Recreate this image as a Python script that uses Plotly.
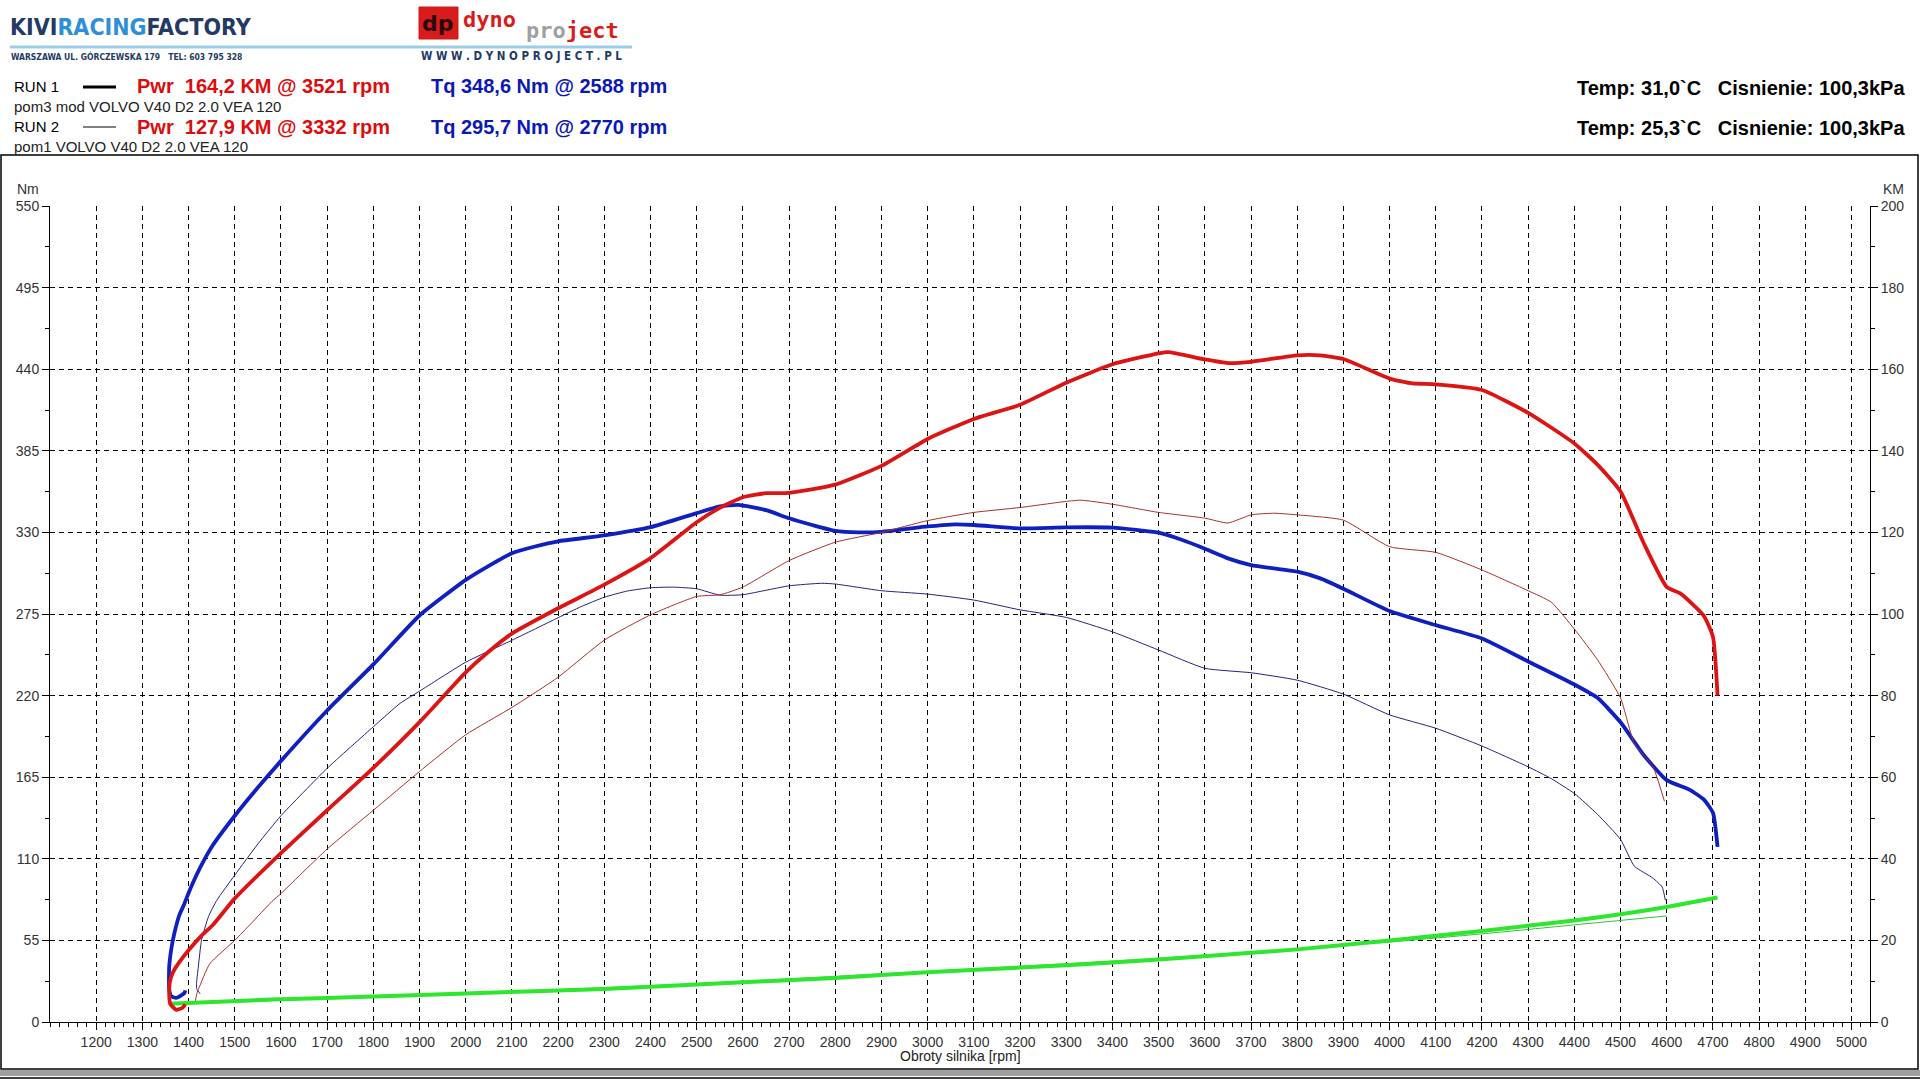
import plotly.graph_objects as go

# ---- data ----
# RUN 1 (thick lines)
run1_tq_rpm = [1393, 1391, 1373, 1362, 1358, 1358, 1363, 1369, 1380, 1390, 1400, 1425, 1450, 1500, 1550,
               1600, 1700, 1800, 1900, 2000, 2050, 2100, 2150, 2200, 2300, 2400, 2500, 2550, 2590, 2650,
               2700, 2750, 2800, 2850, 2900, 3000, 3050, 3100, 3200, 3300, 3400, 3500, 3550, 3600, 3650,
               3700, 3800, 3850, 3900, 4000, 4100, 4200, 4300, 4400, 4450, 4500, 4550, 4600, 4650, 4680,
               4700, 4710]
run1_tq = [21.3, 19.5, 16.2, 17.5, 22, 37, 50, 59.5, 72, 79, 87, 104, 118, 139, 158,
           176, 210, 241, 274, 298, 307.5, 316, 320.5, 324, 328, 333.5, 343, 347.5, 348.6, 345,
           339.5, 335, 331, 330, 330.4, 334, 335.3, 335, 332.7, 333.4, 333.2, 329.8, 325, 319, 312.5,
           308, 303.5, 299, 292, 277, 267.5, 258.5, 243, 227.5, 218.5, 202, 180, 163, 156.5, 150,
           141, 118]

run1_pwr_rpm = [1393, 1387, 1373, 1360, 1358, 1362, 1370, 1380, 1400, 1425, 1455, 1500, 1600, 1700, 1800,
                1900, 2000, 2050, 2100, 2200, 2300, 2400, 2500, 2550, 2600, 2650, 2700, 2800, 2900, 3000,
                3100, 3200, 3300, 3400, 3500, 3521, 3600, 3650, 3700, 3800, 3850, 3900, 4000, 4050, 4100,
                4200, 4300, 4400, 4450, 4500, 4550, 4600, 4630, 4680, 4700, 4710]
run1_pwr = [4.3, 3.5, 3.0, 4.5, 8.2, 11, 13, 14.7, 17.6, 20.8, 24.1, 30.3, 41.4, 51.9, 62.3,
            73.5, 85.7, 90.8, 95.2, 101.4, 107.2, 113.7, 122.5, 126, 128.6, 129.6, 129.7, 131.7, 136.3, 142.9,
            147.8, 151.3, 156.7, 161.2, 163.9, 164.2, 162.4, 161.5, 161.8, 163.4, 163.4, 162.5, 157.7, 156.5, 156.3,
            154.9, 149.3, 141.8, 136.6, 130, 117.4, 106.6, 105, 99.6, 94.4, 80]

run1_loss_rpm = [1358, 1580, 1700, 2000, 2300, 2500, 2800, 3000, 3300, 3500, 3800, 4000, 4200, 4400, 4500, 4600, 4710]
run1_loss = [4.5, 5.5, 5.9, 7.0, 8.1, 9.2, 10.8, 12.2, 13.9, 15.3, 17.8, 20.0, 22.3, 24.9, 26.4, 28.2, 30.5]

# RUN 2 (thin lines)
run2_tq_rpm = [1425, 1418, 1417, 1421, 1428, 1443, 1461, 1500, 1550, 1600, 1700, 1800, 1858, 1900, 2000,
               2100, 2200, 2250, 2300, 2350, 2400, 2450, 2500, 2550, 2600, 2650, 2700, 2770, 2800, 2900,
               3000, 3100, 3200, 3300, 3400, 3500, 3600, 3700, 3800, 3900, 4000, 4100, 4200, 4300, 4350,
               4400, 4450, 4500, 4530, 4570, 4590, 4597]
run2_tq = [19, 22, 25, 37, 55, 71, 82, 99, 120, 139, 171, 199, 214.8, 223, 242.5,
           257.3, 272.5, 280, 286.3, 290.5, 292.7, 293.1, 292, 287.7, 288, 291, 294, 295.7, 295.2, 290.7,
           288.4, 284.4, 277.8, 272.7, 263, 250.7, 238.4, 235.4, 230.4, 221, 207, 198, 186, 172, 164,
           154, 140, 123, 105, 97, 91, 82]

run2_pwr_rpm = [1418, 1415, 1418, 1422, 1446, 1500, 1535, 1580, 1600, 1700, 1800, 1900, 2000, 2100, 2200,
                2300, 2400, 2500, 2550, 2600, 2700, 2800, 2900, 3000, 3100, 3200, 3300, 3332, 3400, 3500,
                3600, 3650, 3700, 3750, 3800, 3900, 4000, 4100, 4200, 4300, 4350, 4400, 4450, 4500, 4530,
                4570, 4595]
run2_pwr = [4.5, 5.0, 7, 8.2, 14.3, 20.0, 24.1, 29.5, 31.5, 42.4, 51.9, 61.4, 70.4, 77.1, 84.5,
            93.6, 99.8, 104.3, 104.7, 106.6, 113.1, 117.6, 120.0, 122.9, 124.9, 126.1, 127.6, 127.9, 126.9, 124.9,
            123.5, 122.3, 124.3, 124.7, 124.3, 123, 116.5, 115.1, 110.8, 105.7, 102.9, 96.3, 88.8, 79.4, 68.2,
            62.6, 54.1]

run2_loss_rpm = [1424, 2000, 2500, 3000, 3500, 3800, 4000, 4200, 4400, 4600]
run2_loss = [4.6, 7.0, 9.4, 12.4, 15.6, 18.0, 19.6, 21.6, 23.8, 26.0]

x_ticks = list(range(1200, 5001, 100))
nm_ticks = list(range(0, 551, 55))
km_ticks = list(range(0, 201, 20))

# ---- page geometry (pixels) ----
W, H = 1920, 1080
L, R, T, B = 50, 50, 206, 58


def px(x):
    return (x - L) / (W - L - R)


def py(y):
    return (H - B - y) / (H - T - B)


TXT = "Liberation Sans, Arial, sans-serif"
NARROW = "Liberation Sans Narrow, DejaVu Sans Condensed, Arial Narrow, sans-serif"

fig = go.Figure()


def curve(x, y, color, width, axis="y"):
    fig.add_trace(go.Scatter(x=x, y=y, yaxis=axis, mode="lines",
                             line=dict(color=color, width=width, shape="spline", smoothing=0.5)))


curve(run2_loss_rpm, run2_loss, "#33c433", 1, "y2")
curve(run2_tq_rpm, run2_tq, "#23237a", 1)
curve(run2_pwr_rpm, run2_pwr, "#a8302a", 1, "y2")
curve(run1_loss_rpm, run1_loss, "#2ee62e", 4, "y2")
curve(run1_tq_rpm, run1_tq, "#1020c0", 3.8)
curve(run1_pwr_rpm, run1_pwr, "#dd1414", 3.8, "y2")

tickfont = dict(family=TXT, size=14, color="#333")
fig.update_layout(
    width=W, height=H, margin=dict(l=L, r=R, t=T, b=B),
    paper_bgcolor="white", plot_bgcolor="white", showlegend=False,
    xaxis=dict(range=[1100, 5040], tickmode="array", tickvals=x_ticks, ticks="outside", ticklen=7,
               tickcolor="black", showline=True, linecolor="black", linewidth=1, zeroline=False,
               showgrid=True, gridcolor="black", gridwidth=1, griddash="5px,4px", tickfont=tickfont,
               minor=dict(tickmode="linear", tick0=1100, dtick=20, ticks="outside", ticklen=4,
                          tickcolor="black", showgrid=False)),
    yaxis=dict(range=[0, 550], tickmode="array", tickvals=nm_ticks, ticks="outside", ticklen=7,
               tickcolor="black", showline=True, linecolor="black", linewidth=1, zeroline=False,
               showgrid=True, gridcolor="black", gridwidth=1, griddash="5px,4px", tickfont=tickfont,
               minor=dict(tickmode="linear", tick0=0, dtick=27.5, ticks="outside", ticklen=4,
                          tickcolor="black", showgrid=False)),
    yaxis2=dict(range=[0, 200], overlaying="y", side="right", tickmode="array", tickvals=km_ticks,
                ticks="outside", ticklen=7, tickcolor="black", showline=True, linecolor="black",
                linewidth=1, zeroline=False, showgrid=False, tickfont=tickfont,
                minor=dict(tickmode="linear", tick0=0, dtick=10, ticks="outside", ticklen=4,
                           tickcolor="black", showgrid=False)),
)

shapes = [
    # outer frame of the chart area
    dict(type="rect", xref="paper", yref="paper", x0=px(1), x1=px(1918), y0=py(1069), y1=py(155),
         line=dict(color="black", width=1.5), fillcolor="rgba(0,0,0,0)", layer="below"),
    dict(type="rect", xref="paper", yref="paper", x0=px(0), x1=px(1920), y0=py(1076), y1=py(1070),
         line=dict(width=0), fillcolor="#a0a0a0"),
    dict(type="line", xref="paper", yref="paper", x0=px(0), x1=px(1920), y0=py(1078), y1=py(1078),
         line=dict(color="black", width=1.5)),
    # header rule under the logos
    dict(type="line", xref="paper", yref="paper", x0=px(10), x1=px(632), y0=py(47), y1=py(47),
         line=dict(color="#9acde9", width=3)),
    # dp logo block
    dict(type="rect", xref="paper", yref="paper", x0=px(419), x1=px(458), y0=py(39), y1=py(7),
         line=dict(color="#d01818", width=1), fillcolor="#d81c1c"),
    # run line samples
    dict(type="line", xref="paper", yref="paper", x0=px(83), x1=px(116), y0=py(87), y1=py(87),
         line=dict(color="black", width=3)),
    dict(type="line", xref="paper", yref="paper", x0=px(83), x1=px(116), y0=py(127), y1=py(127),
         line=dict(color="black", width=1)),
]
fig.update_layout(shapes=shapes)


def note(x, y, text, size, color="black", family=TXT, anchor="left", bold=False):
    if bold:
        text = "<b>" + text + "</b>"
    fig.add_annotation(xref="paper", yref="paper", x=px(x), y=py(y), text=text, showarrow=False,
                       xanchor=anchor, yanchor="middle", font=dict(family=family, size=size, color=color))


# logos
note(8, 27, "<span style='color:#243a64'>KIVI</span><span style='color:#2f8fd6'>RACING</span>"
     "<span style='color:#243a64'>FACTORY</span>", 23, family=NARROW, bold=True)
note(9, 56, "WARSZAWA UL. GÓRCZEWSKA 179&nbsp;&nbsp;&nbsp;TEL: 603 795 328", 8.5, "#243a64",
     family=NARROW, bold=True)
note(438, 24, "dp", 22, "#2a0a0a", family="DejaVu Sans", anchor="center", bold=True)
note(461, 20, "<span style='color:#d81c1c'>dyno</span>", 22, family="DejaVu Sans Mono", bold=True)
note(524, 30, "<span style='color:#a0a0a0'>pro</span><span style='color:#d81c1c'>ject</span>", 22,
     family="DejaVu Sans Mono", bold=True)
note(419, 56, "W W W . D Y N O P R O J E C T . P L", 11.5, "#243a64", family=NARROW, bold=True)

# run descriptions
note(12, 86, "RUN 1", 15)
note(135, 86, "Pwr&nbsp;&nbsp;164,2 KM @ 3521 rpm", 20, "#dd0d0d", bold=True)
note(429, 86, "Tq 348,6 Nm @ 2588 rpm", 20, "#0b18b4", bold=True)
note(12, 106, "pom3 mod VOLVO V40 D2 2.0 VEA 120", 15, "#222")
note(12, 127, "RUN 2", 15)
note(135, 127, "Pwr&nbsp;&nbsp;127,9 KM @ 3332 rpm", 20, "#dd0d0d", bold=True)
note(429, 127, "Tq 295,7 Nm @ 2770 rpm", 20, "#0b18b4", bold=True)
note(12, 146, "pom1 VOLVO V40 D2 2.0 VEA 120", 15, "#222")
note(1907, 88, "Temp: 31,0`C&nbsp;&nbsp;&nbsp;Cisnienie: 100,3kPa", 20, bold=True, anchor="right")
note(1907, 128, "Temp: 25,3`C&nbsp;&nbsp;&nbsp;Cisnienie: 100,3kPa", 20, bold=True, anchor="right")

# axis captions
note(28, 189, "Nm", 14, "#333", anchor="center")
note(1893, 189, "KM", 14, "#333", anchor="center")
note(960, 1056, "Obroty silnika [rpm]", 14, "#222", anchor="center")

# the sheet fills the whole window, so drop the default page margin
fig.write_html("out.html", config={"displayModeBar": False},
               post_script="document.body.style.margin='0';")
